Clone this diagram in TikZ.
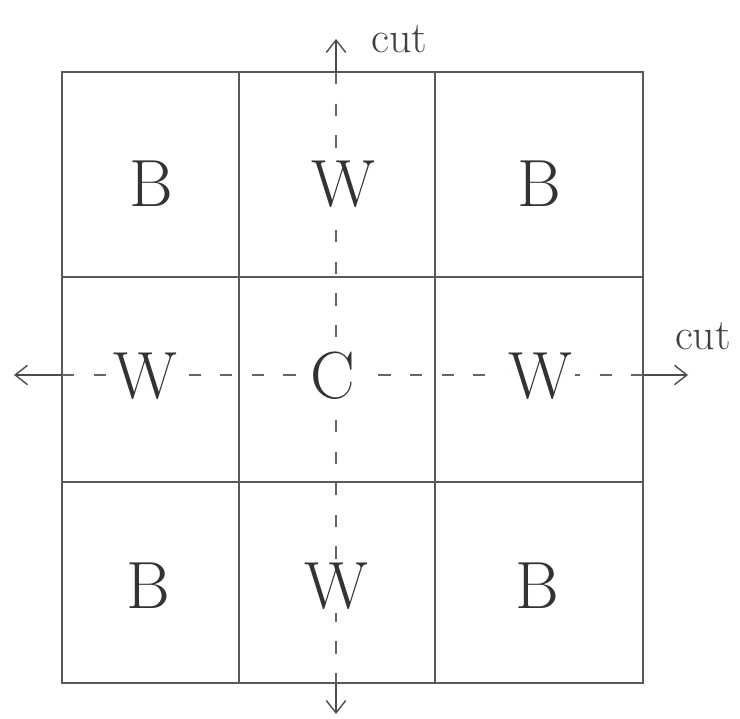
\documentclass[tikz,border=0pt]{standalone}
\usetikzlibrary{positioning,arrows.meta}
\begin{document}
\begin{tikzpicture}[x=0.02cm,y=-0.02cm,
  gridline/.style={draw=black!65,line width=0.6pt},
  cutline/.style={draw=black!60,line width=0.8pt,dash pattern=on 7pt off 11pt},
  cutarrow/.style={draw=black!70,line width=0.8pt,-{Straight Barb[length=7pt,width=11pt]}},
  letter/.style={fill=white,inner sep=2pt,text=black!80,font=\fontsize{38}{40}\selectfont},
  cutlabel/.style={inner sep=0pt,text=black!75,font=\fontsize{25}{27}\selectfont}]
\useasboundingbox (0,0) rectangle (740,719);
% the square and its cells
\draw[gridline] (62,72) rectangle (643,683);
\draw[gridline] (239,72) -- (239,683);
\draw[gridline] (435,72) -- (435,683);
\draw[gridline] (62,277) -- (643,277);
\draw[gridline] (62,482) -- (643,482);
% cut lines
\coordinate (top) at (336,72);
\coordinate (bot) at (336,683);
\coordinate (lft) at (62,375);
\coordinate (rgt) at (643,375);
\draw[cutline] (top) -- (bot);
\draw[cutline] (lft) -- (rgt);
\coordinate[above=0.66cm of top] (uptip);
\coordinate[below=0.62cm of bot] (downtip);
\coordinate[left=0.96cm of lft] (lefttip);
\coordinate[right=0.9cm of rgt] (righttip);
\draw[cutarrow] (top) -- (uptip);
\draw[cutarrow] (bot) -- (downtip);
\draw[cutarrow] (lft) -- (lefttip);
\draw[cutarrow] (rgt) -- (righttip);
\node[cutlabel,right=0.7cm of uptip] (cutup) {cut};
\node[cutlabel,above=0.5cm of righttip,xshift=0.3cm] (cutright) {cut};
% cell letters
\node[letter] (b11) at (151,184) {B};
\node[letter] (w12) at (343,184) {W};
\node[letter] (b13) at (539,184) {B};
\node[letter] (w21) at (145,376) {W};
\node[letter] (c22) at (333,376) {C};
\node[letter] (w23) at (540,376) {W};
\node[letter] (b31) at (148,586) {B};
\node[letter] (w32) at (336,586) {W};
\node[letter] (b33) at (537,586) {B};
\end{tikzpicture}
\end{document}
